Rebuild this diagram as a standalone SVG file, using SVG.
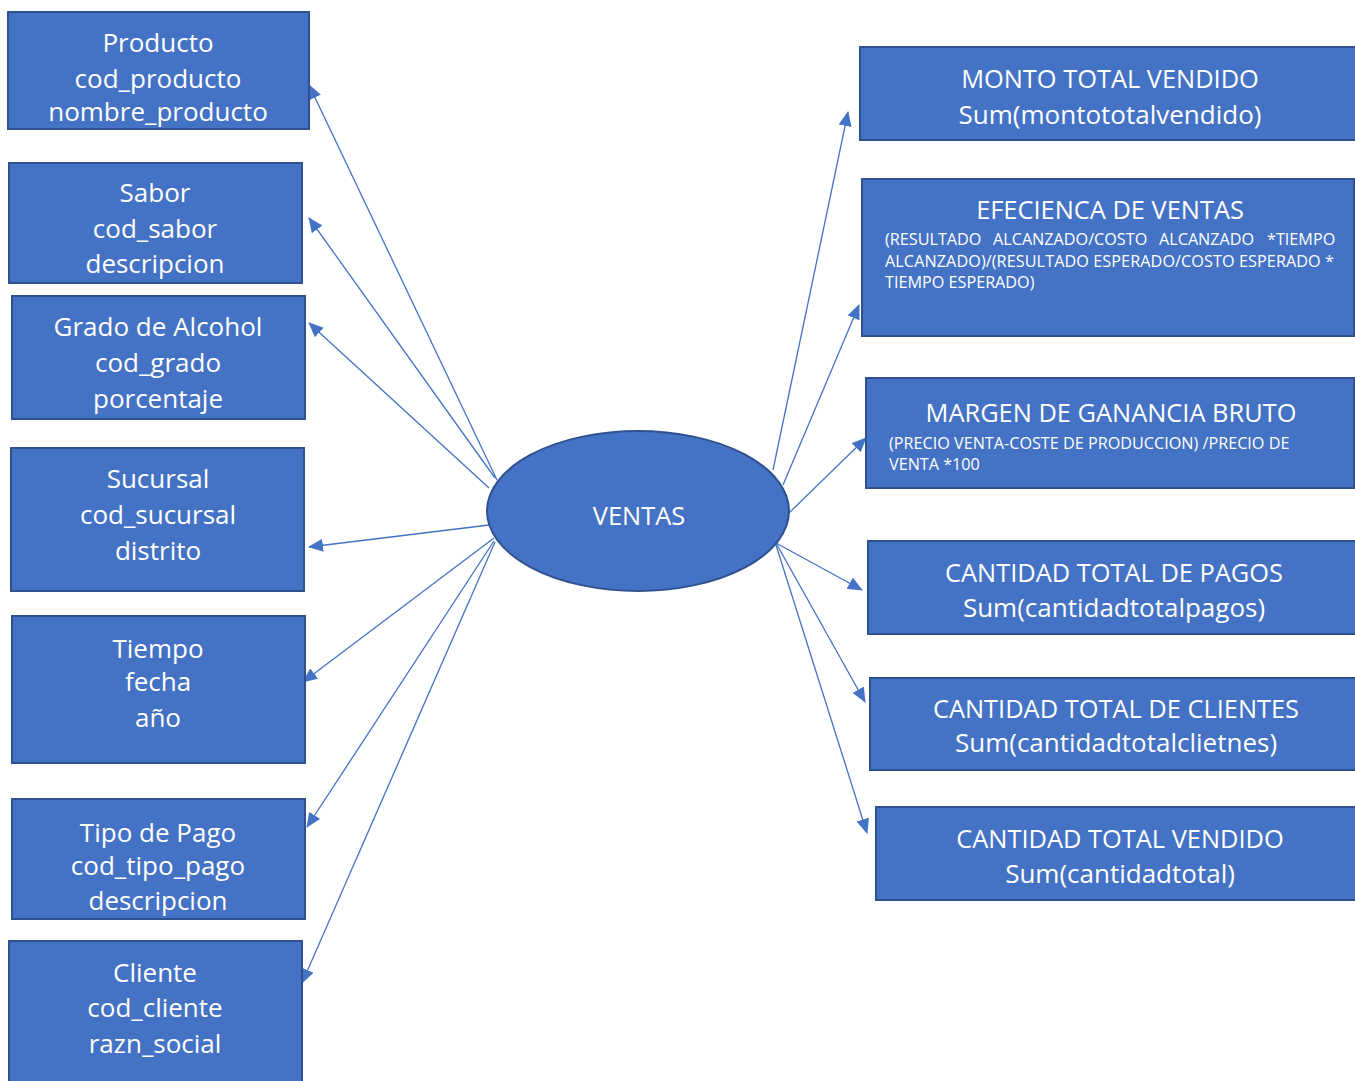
<svg xmlns="http://www.w3.org/2000/svg" width="1355" height="1081" viewBox="0 0 1355 1081">
<defs>
<style>
.box{fill:#4472C4;stroke:#2F528F;stroke-width:2}
.t{fill:#FFFFFF;font-family:"Open Sans","Liberation Sans",sans-serif;font-size:26px;text-anchor:middle}
.u{font-size:25.4px}
.s{fill:#FFFFFF;font-family:"Open Sans","Liberation Sans",sans-serif;font-size:16.2px}
.c{stroke:#4472C4;stroke-width:1.3;fill:none;marker-end:url(#arr)}
</style>
<marker id="arr" markerUnits="userSpaceOnUse" markerWidth="15" markerHeight="13" refX="14" refY="6.5" orient="auto">
<path d="M0,0 L15,6.5 L0,13 z" fill="#4472C4"/>
</marker>
</defs>
<rect width="1355" height="1081" fill="#FFFFFF"/>
<g id="connectors">
<line class="c" x1="497" y1="480" x2="309" y2="85"/>
<line class="c" x1="495" y1="478" x2="309" y2="218"/>
<line class="c" x1="489" y1="488" x2="309" y2="323"/>
<line class="c" x1="489" y1="525" x2="309" y2="547"/>
<line class="c" x1="494" y1="538" x2="303" y2="682"/>
<line class="c" x1="494" y1="541" x2="307" y2="827"/>
<line class="c" x1="495" y1="542" x2="302" y2="983"/>
<line class="c" x1="773" y1="470" x2="848" y2="112"/>
<line class="c" x1="783" y1="485" x2="859" y2="305"/>
<line class="c" x1="789" y1="513" x2="866" y2="438"/>
<line class="c" x1="776" y1="543" x2="862" y2="590"/>
<line class="c" x1="776" y1="543" x2="865" y2="702"/>
<line class="c" x1="776" y1="545" x2="867" y2="833"/>
</g>
<g id="ventas">
<ellipse class="box" cx="638" cy="511" rx="151" ry="80"/>
<text class="t u" x="639" y="525">VENTAS</text>
</g>
<g id="producto">
<rect class="box" x="8" y="12" width="301" height="117"/>
<text class="t" x="158" y="52">Producto</text>
<text class="t" x="158" y="88">cod_producto</text>
<text class="t" x="158" y="121">nombre_producto</text>
</g>
<g id="sabor">
<rect class="box" x="9" y="163" width="293" height="120"/>
<text class="t" x="155" y="202">Sabor</text>
<text class="t" x="155" y="238">cod_sabor</text>
<text class="t" x="155" y="273">descripcion</text>
</g>
<g id="grado">
<rect class="box" x="12" y="296" width="293" height="123"/>
<text class="t" x="158" y="336">Grado de Alcohol</text>
<text class="t" x="158" y="372">cod_grado</text>
<text class="t" x="158" y="408">porcentaje</text>
</g>
<g id="sucursal">
<rect class="box" x="11" y="448" width="293" height="143"/>
<text class="t" x="158" y="488">Sucursal</text>
<text class="t" x="158" y="524">cod_sucursal</text>
<text class="t" x="158" y="560">distrito</text>
</g>
<g id="tiempo">
<rect class="box" x="12" y="616" width="293" height="147"/>
<text class="t" x="158" y="658">Tiempo</text>
<text class="t" x="158" y="691">fecha</text>
<text class="t" x="158" y="727">año</text>
</g>
<g id="tipo_pago">
<rect class="box" x="12" y="799" width="293" height="120"/>
<text class="t" x="158" y="842">Tipo de Pago</text>
<text class="t" x="158" y="875">cod_tipo_pago</text>
<text class="t" x="158" y="910">descripcion</text>
</g>
<g id="cliente">
<rect class="box" x="9" y="941" width="293" height="150"/>
<text class="t" x="155" y="982">Cliente</text>
<text class="t" x="155" y="1017">cod_cliente</text>
<text class="t" x="155" y="1053">razn_social</text>
</g>
<g id="monto">
<rect class="box" x="860" y="47" width="500" height="93"/>
<text class="t u" x="1110" y="88">MONTO TOTAL VENDIDO</text>
<text class="t" x="1110" y="124">Sum(montototalvendido)</text>
</g>
<g id="eficiencia">
<rect class="box" x="862" y="179" width="492" height="157"/>
<text class="t u" x="1110" y="219">EFECIENCA DE VENTAS</text>
<text class="s" y="245"><tspan x="885">(RESULTADO</tspan> <tspan x="993">ALCANZADO/COSTO</tspan> <tspan x="1159">ALCANZADO</tspan> <tspan x="1267">*TIEMPO</tspan></text>
<text class="s" x="885" y="267" textLength="449">ALCANZADO)/(RESULTADO ESPERADO/COSTO ESPERADO *</text>
<text class="s" x="885" y="288">TIEMPO ESPERADO)</text>
</g>
<g id="margen">
<rect class="box" x="866" y="378" width="488" height="110"/>
<text class="t u" x="1111" y="422">MARGEN DE GANANCIA BRUTO</text>
<text class="s" x="889" y="449">(PRECIO VENTA-COSTE DE PRODUCCION) /PRECIO DE</text>
<text class="s" x="889" y="470">VENTA *100</text>
</g>
<g id="pagos">
<rect class="box" x="868" y="541" width="490" height="93"/>
<text class="t u" x="1114" y="582">CANTIDAD TOTAL DE PAGOS</text>
<text class="t" x="1114" y="617">Sum(cantidadtotalpagos)</text>
</g>
<g id="clientes">
<rect class="box" x="870" y="678" width="490" height="92"/>
<text class="t u" x="1116" y="718">CANTIDAD TOTAL DE CLIENTES</text>
<text class="t" x="1116" y="752">Sum(cantidadtotalclietnes)</text>
</g>
<g id="vendido">
<rect class="box" x="876" y="807" width="490" height="93"/>
<text class="t u" x="1120" y="848">CANTIDAD TOTAL VENDIDO</text>
<text class="t" x="1120" y="883">Sum(cantidadtotal)</text>
</g>
</svg>
